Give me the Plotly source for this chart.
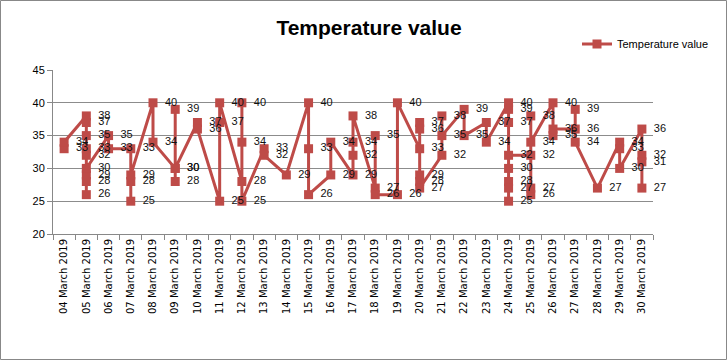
import plotly.graph_objects as go

days = ["04", "05", "06", "07", "08", "09", "10", "11", "12", "13", "14", "15", "16", "17",
        "18", "19", "20", "21", "22", "23", "24", "25", "26", "27", "28", "29", "30"]
categories = [f"{d} March 2019" for d in days]

readings = {
    "04": [33, 34],
    "05": [38, 37, 35, 33, 32, 29, 28, 26, 30],
    "06": [35, 33],
    "07": [33, 25, 28, 29],
    "08": [40, 34],
    "09": [30, 39, 28, 30],
    "10": [37, 36],
    "11": [25, 37, 40],
    "12": [28, 40, 34, 25],
    "13": [33, 32],
    "14": [29],
    "15": [40, 33, 26],
    "16": [29, 34],
    "17": [29, 32, 34, 38],
    "18": [27, 35, 26],
    "19": [26, 40],
    "20": [33, 37, 36, 29, 28, 27],
    "21": [32, 38, 35],
    "22": [39, 35],
    "23": [37, 34],
    "24": [40, 39, 37, 30, 28, 27, 25, 32],
    "25": [32, 26, 27, 38, 34],
    "26": [40, 35, 36],
    "27": [36, 39, 34],
    "28": [27],
    "29": [34, 33, 30],
    "30": [36, 32, 31, 27],
}

x_vals = []
y_vals = []
for d in days:
    for v in readings[d]:
        x_vals.append(f"{d} March 2019")
        y_vals.append(v)

color = "#BE4B48"

fig = go.Figure()
fig.add_trace(go.Scatter(
    x=x_vals, y=y_vals,
    mode="lines+markers+text",
    name="Temperature value",
    line=dict(color=color, width=3),
    marker=dict(symbol="square", size=9, color=color),
    text=[" \u2009" + str(v) for v in y_vals],
    textposition="middle right",
    textfont=dict(family="Liberation Sans", size=11, color="#111111"),
    cliponaxis=False,
))

W, H = 727, 360
L, R, T, B = 53, 74, 70, 126
pw, ph = W - L - R, H - T - B

fig.update_layout(
    width=W, height=H,
    margin=dict(l=L, r=R, t=T, b=B, autoexpand=False),
    paper_bgcolor="white", plot_bgcolor="white",
    title=dict(text="<b>Temperature value</b>", x=369 / W, xanchor="center",
               y=1 - 28 / H, yanchor="middle",
               font=dict(family="Liberation Sans", size=21, color="black")),
    showlegend=True,
    legend=dict(xref="container", yref="container",
                x=577 / W, y=1 - 44 / H, xanchor="left", yanchor="middle",
                font=dict(family="Liberation Sans", size=11, color="black"),
                bgcolor="rgba(0,0,0,0)", itemwidth=30),
    xaxis=dict(type="category", categoryorder="array", categoryarray=categories,
               range=[-0.5, len(categories) - 0.5], automargin=False,
               tickangle=-90, tickfont=dict(family="DejaVu Sans", size=10, color="black"),
               showgrid=False, showline=True, linecolor="#888888", linewidth=1,
               ticks="outside", ticklen=5, tickcolor="#888888", tickson="boundaries",
               zeroline=False),
    yaxis=dict(range=[20, 45], dtick=5, automargin=False,
               tickfont=dict(family="Liberation Sans", size=11, color="black"),
               showgrid=True, gridcolor="#8c8c8c", gridwidth=1,
               showline=True, linecolor="#888888", linewidth=1,
               ticks="outside", ticklen=5, tickcolor="#888888", zeroline=False),
    shapes=[dict(type="rect", xref="paper", yref="paper",
                 x0=(-L + 0.5) / pw, x1=(W - L - 0.5) / pw,
                 y0=(-B + 0.5) / ph, y1=(H - B - 0.5) / ph,
                 line=dict(color="#888888", width=1))],
)

fig.write_html("out.html", config={"displayModeBar": False},
               post_script="document.body.style.margin='0';document.body.style.overflow='hidden';")
